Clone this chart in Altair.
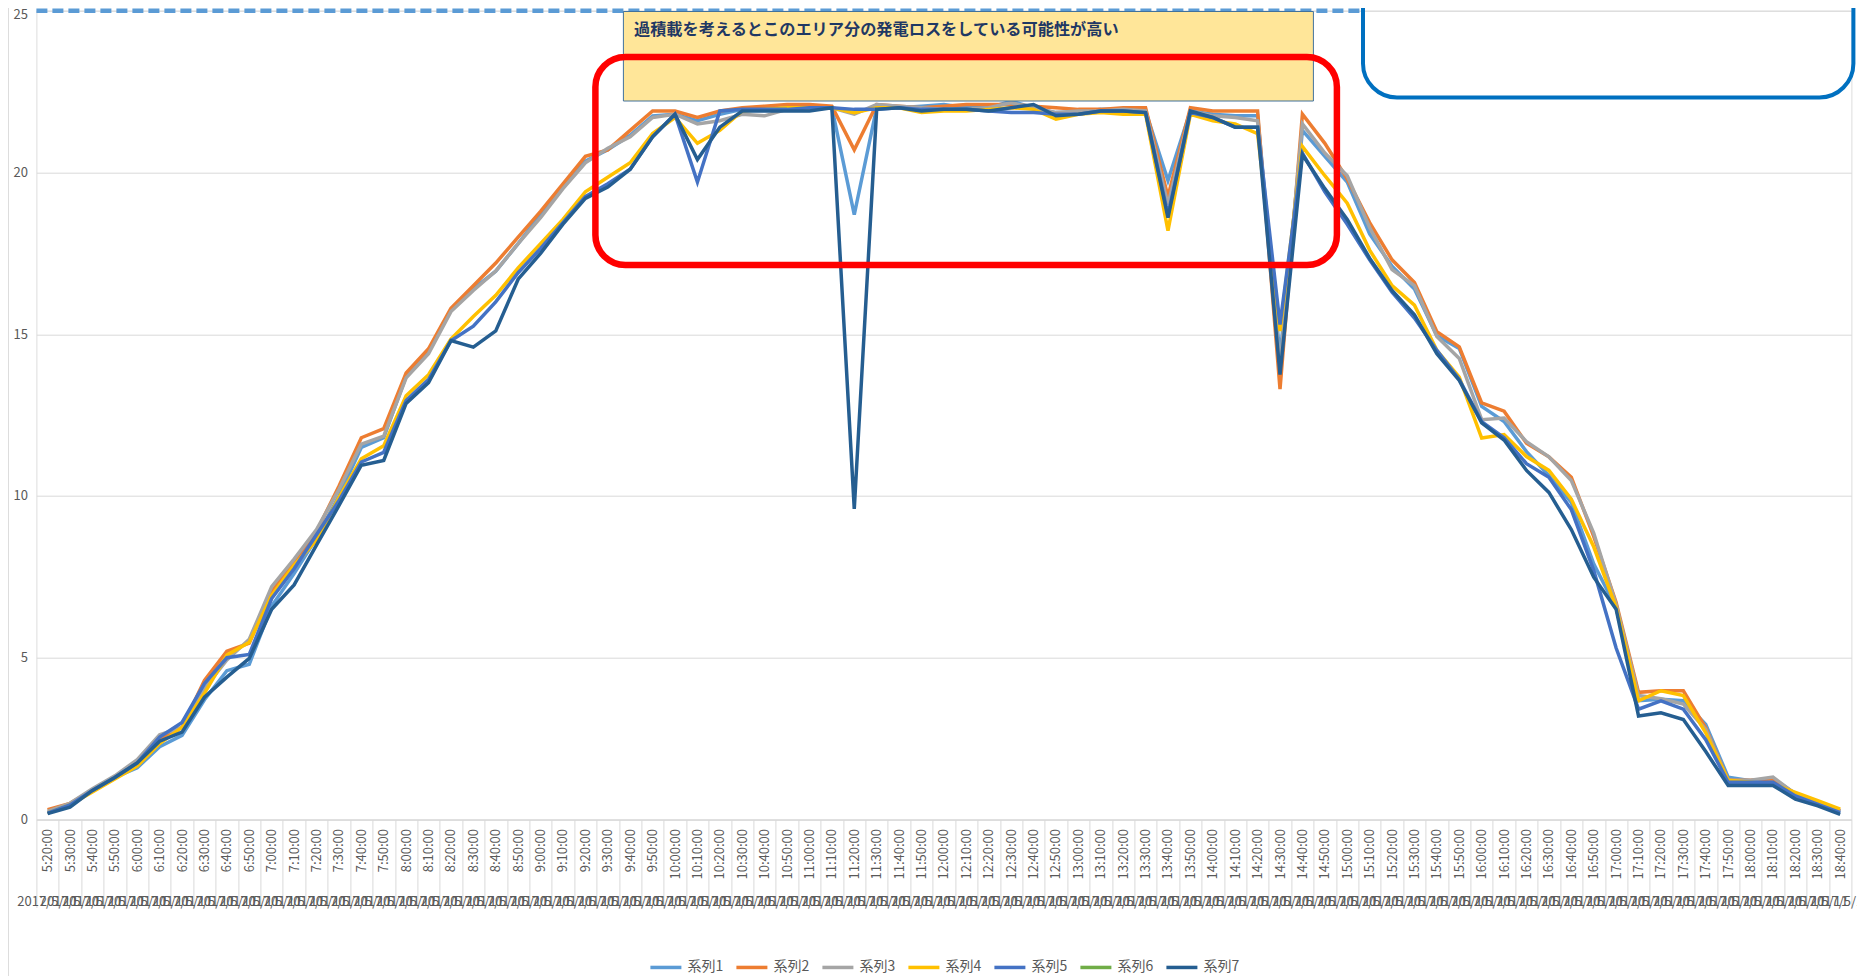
import altair as alt
import pandas as pd

FONT = "Noto Sans CJK JP"

times = [
    "5:20:00", "5:30:00", "5:40:00", "5:50:00", "6:00:00", "6:10:00", "6:20:00", "6:30:00", "6:40:00", "6:50:00",
    "7:00:00", "7:10:00", "7:20:00", "7:30:00", "7:40:00", "7:50:00", "8:00:00", "8:10:00", "8:20:00", "8:30:00",
    "8:40:00", "8:50:00", "9:00:00", "9:10:00", "9:20:00", "9:30:00", "9:40:00", "9:50:00", "10:00:00", "10:10:00",
    "10:20:00", "10:30:00", "10:40:00", "10:50:00", "11:00:00", "11:10:00", "11:20:00", "11:30:00", "11:40:00", "11:50:00",
    "12:00:00", "12:10:00", "12:20:00", "12:30:00", "12:40:00", "12:50:00", "13:00:00", "13:10:00", "13:20:00", "13:30:00",
    "13:40:00", "13:50:00", "14:00:00", "14:10:00", "14:20:00", "14:30:00", "14:40:00", "14:50:00", "15:00:00", "15:10:00",
    "15:20:00", "15:30:00", "15:40:00", "15:50:00", "16:00:00", "16:10:00", "16:20:00", "16:30:00", "16:40:00", "16:50:00",
    "17:00:00", "17:10:00", "17:20:00", "17:30:00", "17:40:00", "17:50:00", "18:00:00", "18:10:00", "18:20:00", "18:30:00",
    "18:40:00",
]
date_label = "2017/5/11"

series_names = ["系列1", "系列2", "系列3", "系列4", "系列5", "系列6", "系列7"]
series_colors = ["#5B9BD5", "#ED7D31", "#A5A5A5", "#FFC000", "#4472C4", "#70AD47", "#255E91"]

s1 = [0.2, 0.45, 0.9, 1.3, 1.6, 2.25, 2.6, 3.7, 4.6, 4.8,
      6.6, 7.6, 8.7, 10.0, 11.5, 11.8, 13.7, 14.45, 15.75, 16.4,
      16.95, 17.8, 18.7, 19.55, 20.35, 20.7, 21.15, 21.75, 21.8, 21.6,
      21.8, 21.95, 21.95, 22.0, 22.0, 22.0, 18.7, 22.0, 22.0, 22.05,
      22.1, 22.0, 22.0, 22.2, 22.0, 21.85, 21.85, 21.95, 21.95, 21.9,
      19.75, 21.9, 21.8, 21.75, 21.75, 14.3, 21.3, 20.5, 19.7, 18.1,
      17.1, 16.4, 14.95, 14.56, 12.77, 12.3, 11.37, 10.63, 9.8, 7.9,
      6.55, 3.67, 3.72, 3.67, 2.94, 1.31, 1.2, 1.26, 0.8, 0.5,
      0.25]
s2 = [0.3, 0.5, 0.9, 1.3, 1.75, 2.5, 2.85, 4.3, 5.2, 5.45,
      7.05, 7.97, 8.9, 10.3, 11.8, 12.08, 13.8, 14.55, 15.8, 16.5,
      17.2, 18.0, 18.8, 19.65, 20.5, 20.7, 21.3, 21.9, 21.9, 21.7,
      21.9, 22.0, 22.05, 22.1, 22.1, 22.05, 20.7, 22.1, 22.05, 22.0,
      22.05, 22.1, 22.1, 22.1, 22.05, 22.0, 21.95, 21.95, 22.0, 22.0,
      19.25, 22.0, 21.9, 21.9, 21.9, 13.3, 21.8, 20.9, 19.8, 18.45,
      17.3, 16.6, 15.08, 14.61, 12.88, 12.62, 11.63, 11.21, 10.58, 8.75,
      6.71, 3.93, 3.98, 3.98, 2.83, 1.21, 1.21, 1.26, 0.79, 0.48,
      0.27]
s3 = [0.25, 0.5, 0.95, 1.35, 1.85, 2.62, 2.85, 4.05, 4.93, 5.57,
      7.2, 8.05, 8.96, 10.2, 11.6, 11.85, 13.65, 14.4, 15.7, 16.35,
      16.95, 17.8, 18.6, 19.5, 20.3, 20.75, 21.1, 21.7, 21.8, 21.5,
      21.6, 21.8, 21.75, 21.95, 21.95, 22.0, 21.8, 22.1, 22.05, 22.0,
      21.95, 21.95, 22.0, 22.15, 22.0, 21.85, 21.9, 21.9, 21.95, 21.9,
      19.0, 21.9, 21.75, 21.7, 21.6, 14.0, 21.5, 20.6, 19.9, 18.3,
      17.0, 16.5, 14.93, 14.25, 12.36, 12.41, 11.68, 11.21, 10.48, 8.85,
      6.65, 3.83, 3.73, 3.57, 2.78, 1.21, 1.21, 1.31, 0.79, 0.48,
      0.27]
s4 = [0.2, 0.45, 0.85, 1.25, 1.65, 2.35, 2.85, 3.9, 5.08, 5.48,
      6.93, 7.86, 8.63, 9.95, 11.15, 11.55, 13.1, 13.75, 14.85, 15.55,
      16.2, 17.05, 17.8, 18.55, 19.4, 19.85, 20.3, 21.2, 21.7, 20.9,
      21.3, 21.9, 21.95, 22.0, 22.0, 22.0, 21.85, 22.0, 22.0, 21.85,
      21.9, 21.9, 21.95, 22.0, 21.95, 21.65, 21.8, 21.85, 21.8, 21.8,
      18.2, 21.8, 21.6, 21.5, 21.2, 15.1, 20.8, 19.9, 19.05, 17.6,
      16.5, 15.9, 14.5, 13.67, 11.79, 11.9, 11.22, 10.79, 9.9, 8.43,
      6.55, 3.67, 3.98, 3.83, 2.68, 1.21, 1.15, 1.1, 0.84, 0.58,
      0.32]
s5 = [0.2, 0.45, 0.9, 1.3, 1.75, 2.55, 3.0, 4.2, 5.0, 5.1,
      6.83, 7.75, 8.8, 9.85, 11.05, 11.35, 12.95, 13.6, 14.8, 15.25,
      16.0, 16.9, 17.65, 18.45, 19.25, 19.65, 20.1, 21.1, 21.8, 19.7,
      21.9, 21.95, 21.95, 21.95, 22.0, 22.0, 21.95, 21.95, 22.0, 21.95,
      21.95, 21.95, 21.9, 21.85, 21.85, 21.8, 21.8, 21.9, 21.9, 21.85,
      18.7, 21.85, 21.7, 21.4, 21.4, 15.3, 20.6, 19.4, 18.4, 17.3,
      16.3, 15.5, 14.5, 13.6, 12.3, 11.8, 11.0, 10.58, 9.58, 7.7,
      5.3, 3.41, 3.67, 3.41, 2.47, 1.15, 1.15, 1.15, 0.73, 0.47,
      0.21]
s6 = []
s7 = [0.18, 0.38, 0.9, 1.3, 1.75, 2.42, 2.7, 3.78, 4.4, 4.98,
      6.5, 7.25, 8.48, 9.7, 10.95, 11.1, 12.86, 13.5, 14.8, 14.6,
      15.1, 16.7, 17.5, 18.4, 19.2, 19.55, 20.1, 21.1, 21.8, 20.4,
      21.4, 21.9, 21.9, 21.9, 21.9, 22.0, 9.6, 21.95, 22.0, 21.9,
      21.95, 21.95, 21.9, 22.0, 22.1, 21.75, 21.8, 21.9, 21.9, 21.85,
      18.6, 21.9, 21.7, 21.4, 21.4, 13.75, 20.55, 19.5, 18.55, 17.35,
      16.35, 15.6, 14.4, 13.57, 12.26, 11.73, 10.79, 10.11, 8.96, 7.49,
      6.5, 3.2, 3.3, 3.09, 2.1, 1.05, 1.05, 1.05, 0.63, 0.42,
      0.16]

y_ticks = [0, 5, 10, 15, 20, 25]
y_max = 25
note_text = "過積載を考えるとこのエリア分の発電ロスをしている可能性が高い"

rows = []
for name, vals in zip(series_names, [s1, s2, s3, s4, s5, s6, s7]):
    for i, (t, v) in enumerate(zip(times, vals)):
        rows.append({"time": t, "idx": i, "series": name, "value": v})
df = pd.DataFrame(rows)
date_df = pd.DataFrame({"time": times, "label": [date_label] * len(times)})
one = pd.DataFrame({"k": [0]})

W, H = 1815, 808.8

xscale = alt.Scale(type="band", domain=times, paddingInner=0, paddingOuter=0)
xaxis = alt.Axis(title=None, labelAngle=270, labelFontSize=13, labelColor="#595959", labelFont=FONT,
                 labelPadding=-79, tickBand="extent", tickSize=88, tickColor="#D9D9D9", tickWidth=1,
                 domainColor="#D9D9D9", domainWidth=1, labelOverlap=False, grid=False)
xenc = alt.X("time:N", scale=xscale, bandPosition=0.5, axis=xaxis)

yenc = alt.Y("value:Q", scale=alt.Scale(domain=[0, y_max], nice=False, zero=True),
             axis=alt.Axis(title=None, values=y_ticks, grid=True, gridColor="#D9D9D9", gridWidth=1,
                           domain=False, ticks=False, labelFontSize=13, labelColor="#595959",
                           labelFont=FONT, labelPadding=9,
                           labelOffset={"condition": {"test": "datum.value == 25", "value": 4}, "value": 0}))

lines = alt.Chart(df).mark_line(strokeWidth=3.5).encode(
    x=xenc,
    y=yenc,
    order=alt.Order("idx:Q"),
    color=alt.Color("series:N", scale=alt.Scale(domain=series_names, range=series_colors),
                    legend=alt.Legend(title=None, orient="none", legendX=612, legendY=939,
                                      direction="horizontal", symbolType="stroke", symbolSize=961,
                                      symbolStrokeWidth=3.5, labelFontSize=14, labelColor="#595959",
                                      labelFont=FONT, labelOffset=4, columnPadding=6, padding=0)),
)

dates = alt.Chart(date_df).mark_text(fontSize=13, color="#595959", font=FONT, baseline="middle").encode(
    x=xenc, y=alt.value(H + 82), text="label:N")

dashed = alt.Chart(one).mark_rule(strokeDash=[11, 5], strokeWidth=4.5, color="#5B9BD5").encode(
    x=alt.value(0), x2=alt.value(1326.6), y=alt.Y(datum=y_max))

ybox = alt.Chart(one).mark_rect(fill="#FFE699", stroke="#41719C", strokeWidth=1).encode(
    x=alt.value(587), x2=alt.value(1277), y=alt.value(0.8), y2=alt.value(90.3))

note = alt.Chart(one).mark_text(text=note_text, align="left", baseline="middle", fontSize=16.2,
                                fontWeight="bold", color="#1F3864", font=FONT).encode(
    x=alt.value(597.6), y=alt.value(19.3))

redbox = alt.Chart(one).mark_rect(filled=False, stroke="#FF0000", strokeWidth=6.5, cornerRadius=30).encode(
    x=alt.value(559), x2=alt.value(1300.5), y=alt.value(46.3), y2=alt.value(254.3))

bluebox = alt.Chart(one).mark_rect(filled=False, stroke="#0070C0", strokeWidth=4, cornerRadius=34).encode(
    x=alt.value(1326.6), x2=alt.value(1817), y=alt.value(-60), y2=alt.value(86.8))

border = alt.Chart(one).mark_rule(color="#D9D9D9", strokeWidth=1).encode(
    x=alt.value(-28), y=alt.value(-10), y2=alt.value(970))

chart = alt.layer(lines, dates, dashed, ybox, redbox, note, bluebox, border).properties(
    width=W, height=H,
    autosize=alt.AutoSizeParams(type="none"),
    padding={"left": 28.4, "top": 2.7, "right": 5.6, "bottom": 156.5},
).configure_view(strokeWidth=0).configure(font=FONT)

chart.save("out.html", embed_options={"renderer": "svg", "actions": False})
